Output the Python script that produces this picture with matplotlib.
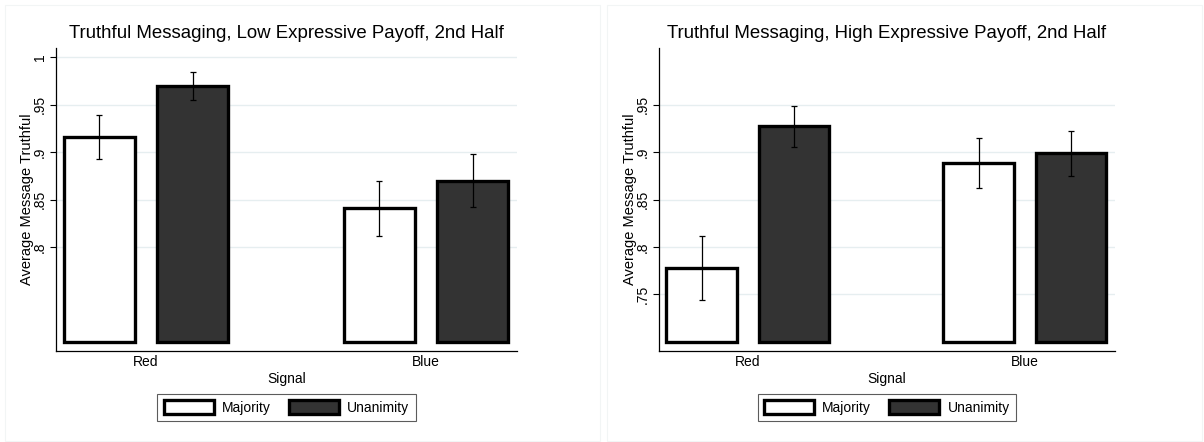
import matplotlib
matplotlib.use("Agg")
import matplotlib.pyplot as plt
from matplotlib.patches import Patch, Rectangle

plt.rcParams["font.family"] = ["Liberation Sans", "DejaVu Sans"]

# -------------------------------------------------------------------
# Data
# -------------------------------------------------------------------
signals = ["Red", "Blue"]
rules = ["Majority", "Unanimity"]

low_majority = [0.916, 0.841]
low_majority_lo = [0.893, 0.812]
low_majority_hi = [0.939, 0.870]
low_unanimity = [0.970, 0.870]
low_unanimity_lo = [0.955, 0.842]
low_unanimity_hi = [0.984, 0.898]

high_majority = [0.778, 0.888]
high_majority_lo = [0.744, 0.862]
high_majority_hi = [0.812, 0.915]
high_unanimity = [0.927, 0.899]
high_unanimity_lo = [0.905, 0.875]
high_unanimity_hi = [0.948, 0.922]

low_ticks = [0.8, 0.85, 0.9, 0.95, 1.0]
low_ticklabels = [".8", ".85", ".9", ".95", "1"]
high_ticks = [0.75, 0.8, 0.85, 0.9, 0.95]
high_ticklabels = [".75", ".8", ".85", ".9", ".95"]

titles = [
    "Truthful Messaging, Low Expressive Payoff, 2nd Half",
    "Truthful Messaging, High Expressive Payoff, 2nd Half",
]

fills = ["white", "#333333"]
base = 0.7
grid_color = "#E6EEF0"

W, H = 1204, 442
fig = plt.figure(figsize=(W / 100, H / 100), dpi=100)

# faint panel borders
for x0, x1 in [(5, 600), (607, 1202)]:
    fig.patches.append(Rectangle((x0 / W, 1 / H), (x1 - x0) / W, (437 - 1) / H,
                                 transform=fig.transFigure, fill=False,
                                 edgecolor="#F2F5F5", linewidth=0.8))


def draw_panel(rect, title, series, ticks, ticklabels):
    ax = fig.add_axes(rect)
    group_x = [0.0, 3.0]
    offsets = [-0.5, 0.5]
    for k, (vals, lo, hi) in enumerate(series):
        xs = [g + offsets[k] for g in group_x]
        heights = [v - base for v in vals]
        ax.bar(xs, heights, bottom=base, width=0.765, color=fills[k],
               edgecolor="black", linewidth=2.4, zorder=3)
        yerr = [[v - l for v, l in zip(vals, lo)], [h - v for v, h in zip(vals, hi)]]
        ax.errorbar(xs, vals, yerr=yerr, fmt="none", ecolor="black",
                    elinewidth=0.9, capsize=2.5, capthick=0.9, zorder=4)

    ax.set_xlim(-0.965, 3.975)
    ax.set_ylim(0.6905, 1.0095)
    ax.set_yticks(ticks)
    ax.set_yticklabels(ticklabels, rotation=90, va="center", fontsize=10)
    ax.set_xticks(group_x)
    ax.set_xticklabels(signals, fontsize=10)
    ax.tick_params(axis="x", length=0, pad=3)
    ax.tick_params(axis="y", length=4.5, width=0.8, pad=2)
    ax.set_xlabel("Signal", fontsize=10, labelpad=2)
    ax.set_ylabel("Average Message Truthful", fontsize=10.5, labelpad=-1)
    ax.set_title(title, fontsize=13.4, pad=7)

    for y in ticks:
        ax.axhline(y, color=grid_color, linewidth=1, zorder=1)

    for s in ["top", "right"]:
        ax.spines[s].set_visible(False)
    for s in ["left", "bottom"]:
        ax.spines[s].set_linewidth(0.9)

    handles = [Patch(facecolor=fills[k], edgecolor="black", linewidth=2.4, label=rules[k])
               for k in range(2)]
    leg = ax.legend(handles=handles, loc="upper center", bbox_to_anchor=(0.5, -0.142),
                    ncol=2, frameon=True, fancybox=False, fontsize=10,
                    handlelength=3.6, handleheight=1.1, handletextpad=0.6,
                    columnspacing=1.3, borderpad=0.45, borderaxespad=0)
    leg.get_frame().set_edgecolor("#333333")
    leg.get_frame().set_linewidth(0.8)
    return ax


low_series = [
    (low_majority, low_majority_lo, low_majority_hi),
    (low_unanimity, low_unanimity_lo, low_unanimity_hi),
]
high_series = [
    (high_majority, high_majority_lo, high_majority_hi),
    (high_unanimity, high_unanimity_lo, high_unanimity_hi),
]

draw_panel([56 / W, (H - 351) / H, 461 / W, 303 / H], titles[0], low_series,
           low_ticks, low_ticklabels)
draw_panel([658.7 / W, (H - 351) / H, 456.3 / W, 303 / H], titles[1], high_series,
           high_ticks, high_ticklabels)

fig.savefig("out.png", dpi=100)
